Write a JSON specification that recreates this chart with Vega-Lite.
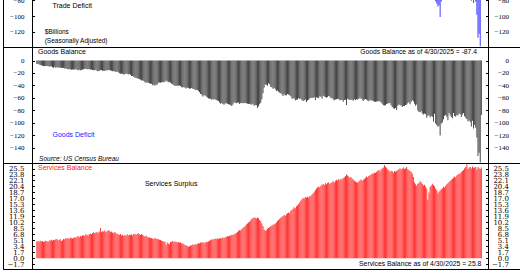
{
"$schema":"https://vega.github.io/schema/vega-lite/v6.json",
"padding":{"left":2,"top":-5,"right":-4,"bottom":0},
"background":"white",
"spacing":0,
"bounds":"flush",
"resolve":{"scale":{"x":"shared","y":"independent"}},
"config":{"view":{"stroke":"#000","strokeWidth":1},"axis":{"domainColor":"#000","tickColor":"#000","labelColor":"#000","grid":false,"labelOverlap":false,"labelBound":false,"zindex":1}},
"data":{"values":[
{"date":"1992-01","goods":-5.5,"services":4.8,"total":-0.7},
{"date":"1992-02","goods":-5.2,"services":4.9,"total":-0.3},
{"date":"1992-03","goods":-6.3,"services":4.7,"total":-1.6},
{"date":"1992-04","goods":-7.0,"services":5.0,"total":-2.0},
{"date":"1992-05","goods":-7.4,"services":4.8,"total":-2.6},
{"date":"1992-06","goods":-8.2,"services":4.9,"total":-3.3},
{"date":"1992-07","goods":-8.8,"services":4.6,"total":-4.2},
{"date":"1992-08","goods":-9.1,"services":4.8,"total":-4.3},
{"date":"1992-09","goods":-8.6,"services":5.0,"total":-3.6},
{"date":"1992-10","goods":-8.9,"services":4.9,"total":-4.0},
{"date":"1992-11","goods":-9.3,"services":4.7,"total":-4.6},
{"date":"1992-12","goods":-9.6,"services":5.0,"total":-4.6},
{"date":"1993-01","goods":-9.4,"services":5.1,"total":-4.3},
{"date":"1993-02","goods":-9.8,"services":5.3,"total":-4.5},
{"date":"1993-03","goods":-10.7,"services":5.0,"total":-5.7},
{"date":"1993-04","goods":-11.5,"services":5.3,"total":-6.2},
{"date":"1993-05","goods":-10.2,"services":5.2,"total":-5.0},
{"date":"1993-06","goods":-11.8,"services":5.4,"total":-6.4},
{"date":"1993-07","goods":-11.0,"services":5.5,"total":-5.5},
{"date":"1993-08","goods":-11.3,"services":5.1,"total":-6.2},
{"date":"1993-09","goods":-11.6,"services":5.3,"total":-6.3},
{"date":"1993-10","goods":-11.1,"services":5.4,"total":-5.7},
{"date":"1993-11","goods":-12.0,"services":4.9,"total":-7.1},
{"date":"1993-12","goods":-11.8,"services":5.1,"total":-6.7},
{"date":"1994-01","goods":-12.2,"services":5.5,"total":-6.7},
{"date":"1994-02","goods":-12.8,"services":5.4,"total":-7.4},
{"date":"1994-03","goods":-12.5,"services":5.7,"total":-6.8},
{"date":"1994-04","goods":-13.5,"services":5.6,"total":-7.9},
{"date":"1994-05","goods":-14.0,"services":5.8,"total":-8.2},
{"date":"1994-06","goods":-14.2,"services":5.5,"total":-8.7},
{"date":"1994-07","goods":-13.9,"services":5.9,"total":-8.0},
{"date":"1994-08","goods":-14.8,"services":5.7,"total":-9.1},
{"date":"1994-09","goods":-14.6,"services":5.6,"total":-9.0},
{"date":"1994-10","goods":-14.4,"services":5.8,"total":-8.6},
{"date":"1994-11","goods":-14.9,"services":6.0,"total":-8.9},
{"date":"1994-12","goods":-13.2,"services":5.9,"total":-7.3},
{"date":"1995-01","goods":-15.1,"services":6.1,"total":-9.0},
{"date":"1995-02","goods":-15.6,"services":6.3,"total":-9.3},
{"date":"1995-03","goods":-14.8,"services":6.0,"total":-8.8},
{"date":"1995-04","goods":-15.9,"services":6.4,"total":-9.5},
{"date":"1995-05","goods":-15.2,"services":6.2,"total":-9.0},
{"date":"1995-06","goods":-14.6,"services":6.5,"total":-8.1},
{"date":"1995-07","goods":-14.1,"services":6.6,"total":-7.5},
{"date":"1995-08","goods":-13.5,"services":6.3,"total":-7.2},
{"date":"1995-09","goods":-13.2,"services":6.8,"total":-6.4},
{"date":"1995-10","goods":-13.9,"services":6.7,"total":-7.2},
{"date":"1995-11","goods":-14.1,"services":6.5,"total":-7.6},
{"date":"1995-12","goods":-13.8,"services":6.9,"total":-6.9},
{"date":"1996-01","goods":-14.7,"services":7.0,"total":-7.7},
{"date":"1996-02","goods":-14.4,"services":6.8,"total":-7.6},
{"date":"1996-03","goods":-15.1,"services":7.2,"total":-7.9},
{"date":"1996-04","goods":-15.8,"services":7.4,"total":-8.4},
{"date":"1996-05","goods":-15.6,"services":7.1,"total":-8.5},
{"date":"1996-06","goods":-15.0,"services":7.3,"total":-7.7},
{"date":"1996-07","goods":-16.8,"services":7.5,"total":-9.3},
{"date":"1996-08","goods":-17.3,"services":7.2,"total":-10.1},
{"date":"1996-09","goods":-16.4,"services":7.6,"total":-8.8},
{"date":"1996-10","goods":-15.7,"services":8.6,"total":-7.1},
{"date":"1996-11","goods":-15.2,"services":7.4,"total":-7.8},
{"date":"1996-12","goods":-16.9,"services":7.7,"total":-9.2},
{"date":"1997-01","goods":-16.2,"services":7.6,"total":-8.6},
{"date":"1997-02","goods":-16.8,"services":7.9,"total":-8.9},
{"date":"1997-03","goods":-15.7,"services":7.5,"total":-8.2},
{"date":"1997-04","goods":-16.1,"services":7.7,"total":-8.4},
{"date":"1997-05","goods":-15.4,"services":8.0,"total":-7.4},
{"date":"1997-06","goods":-15.2,"services":7.8,"total":-7.4},
{"date":"1997-07","goods":-15.9,"services":7.4,"total":-8.5},
{"date":"1997-08","goods":-16.4,"services":7.6,"total":-8.8},
{"date":"1997-09","goods":-17.2,"services":7.3,"total":-9.9},
{"date":"1997-10","goods":-17.0,"services":7.2,"total":-9.8},
{"date":"1997-11","goods":-17.6,"services":7.5,"total":-10.1},
{"date":"1997-12","goods":-18.3,"services":7.1,"total":-11.2},
{"date":"1998-01","goods":-17.8,"services":7.0,"total":-10.8},
{"date":"1998-02","goods":-18.9,"services":6.8,"total":-12.1},
{"date":"1998-03","goods":-20.4,"services":6.6,"total":-13.8},
{"date":"1998-04","goods":-21.2,"services":6.9,"total":-14.3},
{"date":"1998-05","goods":-21.0,"services":6.5,"total":-14.5},
{"date":"1998-06","goods":-21.8,"services":6.7,"total":-15.1},
{"date":"1998-07","goods":-22.4,"services":6.3,"total":-16.1},
{"date":"1998-08","goods":-21.9,"services":6.6,"total":-15.3},
{"date":"1998-09","goods":-21.1,"services":6.4,"total":-14.7},
{"date":"1998-10","goods":-21.3,"services":6.8,"total":-14.5},
{"date":"1998-11","goods":-22.6,"services":6.5,"total":-16.1},
{"date":"1998-12","goods":-21.8,"services":6.7,"total":-15.1},
{"date":"1999-01","goods":-22.9,"services":6.6,"total":-16.3},
{"date":"1999-02","goods":-24.8,"services":6.8,"total":-18.0},
{"date":"1999-03","goods":-25.0,"services":6.5,"total":-18.5},
{"date":"1999-04","goods":-26.1,"services":6.9,"total":-19.2},
{"date":"1999-05","goods":-27.3,"services":7.0,"total":-20.3},
{"date":"1999-06","goods":-28.0,"services":6.7,"total":-21.3},
{"date":"1999-07","goods":-28.6,"services":6.9,"total":-21.7},
{"date":"1999-08","goods":-29.1,"services":7.1,"total":-22.0},
{"date":"1999-09","goods":-30.2,"services":6.8,"total":-23.4},
{"date":"1999-10","goods":-30.6,"services":6.6,"total":-24.0},
{"date":"1999-11","goods":-32.1,"services":6.9,"total":-25.2},
{"date":"1999-12","goods":-31.5,"services":6.7,"total":-24.8},
{"date":"2000-01","goods":-33.0,"services":6.4,"total":-26.6},
{"date":"2000-02","goods":-34.8,"services":6.2,"total":-28.6},
{"date":"2000-03","goods":-35.6,"services":6.5,"total":-29.1},
{"date":"2000-04","goods":-35.0,"services":6.1,"total":-28.9},
{"date":"2000-05","goods":-35.9,"services":5.9,"total":-30.0},
{"date":"2000-06","goods":-36.4,"services":6.0,"total":-30.4},
{"date":"2000-07","goods":-37.1,"services":5.7,"total":-31.4},
{"date":"2000-08","goods":-37.3,"services":5.8,"total":-31.5},
{"date":"2000-09","goods":-39.6,"services":5.6,"total":-34.0},
{"date":"2000-10","goods":-38.8,"services":5.5,"total":-33.3},
{"date":"2000-11","goods":-40.4,"services":5.8,"total":-34.6},
{"date":"2000-12","goods":-38.7,"services":5.6,"total":-33.1},
{"date":"2001-01","goods":-38.4,"services":5.5,"total":-32.9},
{"date":"2001-02","goods":-35.8,"services":5.4,"total":-30.4},
{"date":"2001-03","goods":-35.2,"services":5.3,"total":-29.9},
{"date":"2001-04","goods":-35.6,"services":5.2,"total":-30.4},
{"date":"2001-05","goods":-35.0,"services":5.0,"total":-30.0},
{"date":"2001-06","goods":-34.4,"services":4.9,"total":-29.5},
{"date":"2001-07","goods":-34.7,"services":4.8,"total":-29.9},
{"date":"2001-08","goods":-34.2,"services":4.7,"total":-29.5},
{"date":"2001-09","goods":-32.1,"services":3.8,"total":-28.3},
{"date":"2001-10","goods":-33.6,"services":4.5,"total":-29.1},
{"date":"2001-11","goods":-34.7,"services":4.2,"total":-30.5},
{"date":"2001-12","goods":-34.0,"services":4.0,"total":-30.0},
{"date":"2002-01","goods":-35.8,"services":4.6,"total":-31.2},
{"date":"2002-02","goods":-37.2,"services":4.7,"total":-32.5},
{"date":"2002-03","goods":-38.1,"services":4.9,"total":-33.2},
{"date":"2002-04","goods":-39.5,"services":4.6,"total":-34.9},
{"date":"2002-05","goods":-40.3,"services":4.8,"total":-35.5},
{"date":"2002-06","goods":-40.9,"services":4.7,"total":-36.2},
{"date":"2002-07","goods":-40.0,"services":4.5,"total":-35.5},
{"date":"2002-08","goods":-40.6,"services":4.6,"total":-36.0},
{"date":"2002-09","goods":-40.2,"services":4.4,"total":-35.8},
{"date":"2002-10","goods":-41.0,"services":4.5,"total":-36.5},
{"date":"2002-11","goods":-42.8,"services":4.3,"total":-38.5},
{"date":"2002-12","goods":-43.5,"services":4.2,"total":-39.3},
{"date":"2003-01","goods":-42.5,"services":4.0,"total":-38.5},
{"date":"2003-02","goods":-43.6,"services":3.8,"total":-39.8},
{"date":"2003-03","goods":-44.8,"services":3.6,"total":-41.2},
{"date":"2003-04","goods":-43.5,"services":3.5,"total":-40.0},
{"date":"2003-05","goods":-44.1,"services":3.3,"total":-40.8},
{"date":"2003-06","goods":-45.2,"services":3.4,"total":-41.8},
{"date":"2003-07","goods":-45.0,"services":3.6,"total":-41.4},
{"date":"2003-08","goods":-44.3,"services":3.7,"total":-40.6},
{"date":"2003-09","goods":-45.5,"services":3.9,"total":-41.6},
{"date":"2003-10","goods":-45.9,"services":3.8,"total":-42.1},
{"date":"2003-11","goods":-46.8,"services":4.0,"total":-42.8},
{"date":"2003-12","goods":-47.4,"services":3.9,"total":-43.5},
{"date":"2004-01","goods":-47.5,"services":4.1,"total":-43.4},
{"date":"2004-02","goods":-48.9,"services":4.3,"total":-44.6},
{"date":"2004-03","goods":-50.8,"services":4.2,"total":-46.6},
{"date":"2004-04","goods":-53.6,"services":4.5,"total":-49.1},
{"date":"2004-05","goods":-54.4,"services":4.4,"total":-50.0},
{"date":"2004-06","goods":-57.6,"services":4.6,"total":-53.0},
{"date":"2004-07","goods":-55.7,"services":4.3,"total":-51.4},
{"date":"2004-08","goods":-56.0,"services":4.5,"total":-51.5},
{"date":"2004-09","goods":-57.8,"services":4.7,"total":-53.1},
{"date":"2004-10","goods":-59.5,"services":4.6,"total":-54.9},
{"date":"2004-11","goods":-60.6,"services":4.8,"total":-55.8},
{"date":"2004-12","goods":-61.3,"services":4.9,"total":-56.4},
{"date":"2005-01","goods":-61.2,"services":5.2,"total":-56.0},
{"date":"2005-02","goods":-62.9,"services":5.4,"total":-57.5},
{"date":"2005-03","goods":-61.8,"services":5.3,"total":-56.5},
{"date":"2005-04","goods":-62.5,"services":5.5,"total":-57.0},
{"date":"2005-05","goods":-62.0,"services":5.6,"total":-56.4},
{"date":"2005-06","goods":-63.4,"services":5.4,"total":-58.0},
{"date":"2005-07","goods":-64.1,"services":5.7,"total":-58.4},
{"date":"2005-08","goods":-65.0,"services":5.5,"total":-59.5},
{"date":"2005-09","goods":-67.5,"services":5.6,"total":-61.9},
{"date":"2005-10","goods":-69.3,"services":5.8,"total":-63.5},
{"date":"2005-11","goods":-68.1,"services":5.7,"total":-62.4},
{"date":"2005-12","goods":-69.8,"services":5.9,"total":-63.9},
{"date":"2006-01","goods":-71.0,"services":5.8,"total":-65.2},
{"date":"2006-02","goods":-68.8,"services":6.0,"total":-62.8},
{"date":"2006-03","goods":-68.5,"services":6.1,"total":-62.4},
{"date":"2006-04","goods":-69.2,"services":6.3,"total":-62.9},
{"date":"2006-05","goods":-70.1,"services":6.2,"total":-63.9},
{"date":"2006-06","goods":-70.4,"services":6.4,"total":-64.0},
{"date":"2006-07","goods":-72.0,"services":6.5,"total":-65.5},
{"date":"2006-08","goods":-73.1,"services":6.7,"total":-66.4},
{"date":"2006-09","goods":-70.6,"services":6.6,"total":-64.0},
{"date":"2006-10","goods":-67.4,"services":6.8,"total":-60.6},
{"date":"2006-11","goods":-67.9,"services":7.0,"total":-60.9},
{"date":"2006-12","goods":-68.6,"services":7.2,"total":-61.4},
{"date":"2007-01","goods":-67.6,"services":7.5,"total":-60.1},
{"date":"2007-02","goods":-67.2,"services":7.8,"total":-59.4},
{"date":"2007-03","goods":-69.9,"services":8.0,"total":-61.9},
{"date":"2007-04","goods":-68.3,"services":7.9,"total":-60.4},
{"date":"2007-05","goods":-68.7,"services":8.3,"total":-60.4},
{"date":"2007-06","goods":-68.1,"services":8.6,"total":-59.5},
{"date":"2007-07","goods":-68.5,"services":8.9,"total":-59.6},
{"date":"2007-08","goods":-68.0,"services":9.2,"total":-58.8},
{"date":"2007-09","goods":-68.4,"services":9.6,"total":-58.8},
{"date":"2007-10","goods":-69.2,"services":9.9,"total":-59.3},
{"date":"2007-11","goods":-69.7,"services":10.2,"total":-59.5},
{"date":"2007-12","goods":-69.4,"services":10.4,"total":-59.0},
{"date":"2008-01","goods":-70.3,"services":10.8,"total":-59.5},
{"date":"2008-02","goods":-71.0,"services":11.2,"total":-59.8},
{"date":"2008-03","goods":-69.2,"services":11.4,"total":-57.8},
{"date":"2008-04","goods":-72.8,"services":11.6,"total":-61.2},
{"date":"2008-05","goods":-71.4,"services":11.5,"total":-59.9},
{"date":"2008-06","goods":-71.9,"services":11.3,"total":-60.6},
{"date":"2008-07","goods":-76.2,"services":11.6,"total":-64.6},
{"date":"2008-08","goods":-73.5,"services":11.4,"total":-62.1},
{"date":"2008-09","goods":-70.3,"services":10.9,"total":-59.4},
{"date":"2008-10","goods":-67.9,"services":10.5,"total":-57.4},
{"date":"2008-11","goods":-62.0,"services":9.9,"total":-52.1},
{"date":"2008-12","goods":-52.6,"services":9.2,"total":-43.4},
{"date":"2009-01","goods":-43.5,"services":8.2,"total":-35.3},
{"date":"2009-02","goods":-38.4,"services":7.8,"total":-30.6},
{"date":"2009-03","goods":-38.7,"services":8.0,"total":-30.7},
{"date":"2009-04","goods":-40.3,"services":8.4,"total":-31.9},
{"date":"2009-05","goods":-36.5,"services":8.6,"total":-27.9},
{"date":"2009-06","goods":-38.1,"services":8.9,"total":-29.2},
{"date":"2009-07","goods":-42.6,"services":9.1,"total":-33.5},
{"date":"2009-08","goods":-43.0,"services":9.3,"total":-33.7},
{"date":"2009-09","goods":-45.5,"services":9.5,"total":-36.0},
{"date":"2009-10","goods":-44.1,"services":9.7,"total":-34.4},
{"date":"2009-11","goods":-46.3,"services":9.9,"total":-36.4},
{"date":"2009-12","goods":-48.8,"services":10.2,"total":-38.6},
{"date":"2010-01","goods":-48.3,"services":10.6,"total":-37.7},
{"date":"2010-02","goods":-50.1,"services":10.9,"total":-39.2},
{"date":"2010-03","goods":-51.9,"services":11.2,"total":-40.7},
{"date":"2010-04","goods":-52.7,"services":11.5,"total":-41.2},
{"date":"2010-05","goods":-54.2,"services":11.8,"total":-42.4},
{"date":"2010-06","goods":-56.9,"services":12.0,"total":-44.9},
{"date":"2010-07","goods":-54.0,"services":12.3,"total":-41.7},
{"date":"2010-08","goods":-56.3,"services":12.1,"total":-44.2},
{"date":"2010-09","goods":-55.7,"services":12.5,"total":-43.2},
{"date":"2010-10","goods":-53.8,"services":12.8,"total":-41.0},
{"date":"2010-11","goods":-54.6,"services":13.0,"total":-41.6},
{"date":"2010-12","goods":-55.9,"services":12.9,"total":-43.0},
{"date":"2011-01","goods":-57.5,"services":13.5,"total":-44.0},
{"date":"2011-02","goods":-61.2,"services":13.8,"total":-47.4},
{"date":"2011-03","goods":-60.5,"services":14.1,"total":-46.4},
{"date":"2011-04","goods":-61.1,"services":14.5,"total":-46.6},
{"date":"2011-05","goods":-64.2,"services":14.2,"total":-50.0},
{"date":"2011-06","goods":-63.0,"services":14.8,"total":-48.2},
{"date":"2011-07","goods":-62.4,"services":15.1,"total":-47.3},
{"date":"2011-08","goods":-60.3,"services":15.4,"total":-44.9},
{"date":"2011-09","goods":-61.7,"services":15.9,"total":-45.8},
{"date":"2011-10","goods":-61.5,"services":16.4,"total":-45.1},
{"date":"2011-11","goods":-63.8,"services":16.8,"total":-47.0},
{"date":"2011-12","goods":-64.9,"services":17.1,"total":-47.8},
{"date":"2012-01","goods":-64.0,"services":17.0,"total":-47.0},
{"date":"2012-02","goods":-62.7,"services":17.4,"total":-45.3},
{"date":"2012-03","goods":-66.4,"services":17.2,"total":-49.2},
{"date":"2012-04","goods":-64.3,"services":17.5,"total":-46.8},
{"date":"2012-05","goods":-63.0,"services":17.3,"total":-45.7},
{"date":"2012-06","goods":-60.9,"services":17.6,"total":-43.3},
{"date":"2012-07","goods":-59.8,"services":17.8,"total":-42.0},
{"date":"2012-08","goods":-60.2,"services":18.1,"total":-42.1},
{"date":"2012-09","goods":-59.6,"services":18.5,"total":-41.1},
{"date":"2012-10","goods":-59.1,"services":18.9,"total":-40.2},
{"date":"2012-11","goods":-63.5,"services":19.4,"total":-44.1},
{"date":"2012-12","goods":-58.9,"services":19.8,"total":-39.1},
{"date":"2013-01","goods":-59.8,"services":20.1,"total":-39.7},
{"date":"2013-02","goods":-60.5,"services":20.4,"total":-40.1},
{"date":"2013-03","goods":-57.3,"services":20.2,"total":-37.1},
{"date":"2013-04","goods":-58.1,"services":20.6,"total":-37.5},
{"date":"2013-05","goods":-61.2,"services":20.9,"total":-40.3},
{"date":"2013-06","goods":-56.4,"services":21.1,"total":-35.3},
{"date":"2013-07","goods":-57.7,"services":20.8,"total":-36.9},
{"date":"2013-08","goods":-58.4,"services":21.3,"total":-37.1},
{"date":"2013-09","goods":-59.6,"services":21.0,"total":-38.6},
{"date":"2013-10","goods":-58.5,"services":21.4,"total":-37.1},
{"date":"2013-11","goods":-56.8,"services":21.6,"total":-35.2},
{"date":"2013-12","goods":-57.9,"services":21.2,"total":-36.7},
{"date":"2014-01","goods":-60.5,"services":21.4,"total":-39.1},
{"date":"2014-02","goods":-60.1,"services":21.6,"total":-38.5},
{"date":"2014-03","goods":-62.4,"services":21.9,"total":-40.5},
{"date":"2014-04","goods":-63.7,"services":21.5,"total":-42.2},
{"date":"2014-05","goods":-62.4,"services":22.0,"total":-40.4},
{"date":"2014-06","goods":-62.0,"services":22.3,"total":-39.7},
{"date":"2014-07","goods":-61.5,"services":22.1,"total":-39.4},
{"date":"2014-08","goods":-62.1,"services":22.5,"total":-39.6},
{"date":"2014-09","goods":-63.5,"services":22.2,"total":-41.3},
{"date":"2014-10","goods":-63.7,"services":22.6,"total":-41.1},
{"date":"2014-11","goods":-63.2,"services":22.4,"total":-40.8},
{"date":"2014-12","goods":-66.0,"services":22.8,"total":-43.2},
{"date":"2015-01","goods":-63.4,"services":23.0,"total":-40.4},
{"date":"2015-02","goods":-62.8,"services":23.4,"total":-39.4},
{"date":"2015-03","goods":-71.5,"services":23.8,"total":-47.7},
{"date":"2015-04","goods":-61.2,"services":23.5,"total":-37.7},
{"date":"2015-05","goods":-62.5,"services":23.2,"total":-39.3},
{"date":"2015-06","goods":-63.4,"services":22.9,"total":-40.5},
{"date":"2015-07","goods":-62.8,"services":23.1,"total":-39.7},
{"date":"2015-08","goods":-63.0,"services":22.6,"total":-40.4},
{"date":"2015-09","goods":-64.4,"services":22.4,"total":-42.0},
{"date":"2015-10","goods":-62.1,"services":22.0,"total":-40.1},
{"date":"2015-11","goods":-63.2,"services":21.8,"total":-41.4},
{"date":"2015-12","goods":-62.0,"services":21.6,"total":-40.4},
{"date":"2016-01","goods":-62.4,"services":21.5,"total":-40.9},
{"date":"2016-02","goods":-61.8,"services":21.8,"total":-40.0},
{"date":"2016-03","goods":-59.3,"services":22.1,"total":-37.2},
{"date":"2016-04","goods":-61.2,"services":22.4,"total":-38.8},
{"date":"2016-05","goods":-62.6,"services":22.0,"total":-40.6},
{"date":"2016-06","goods":-64.8,"services":22.3,"total":-42.5},
{"date":"2016-07","goods":-62.6,"services":22.6,"total":-40.0},
{"date":"2016-08","goods":-61.9,"services":22.9,"total":-39.0},
{"date":"2016-09","goods":-63.0,"services":23.2,"total":-39.8},
{"date":"2016-10","goods":-64.2,"services":23.0,"total":-41.2},
{"date":"2016-11","goods":-65.5,"services":23.4,"total":-42.1},
{"date":"2016-12","goods":-63.1,"services":23.6,"total":-39.5},
{"date":"2017-01","goods":-64.3,"services":23.8,"total":-40.5},
{"date":"2017-02","goods":-64.1,"services":24.1,"total":-40.0},
{"date":"2017-03","goods":-65.2,"services":24.0,"total":-41.2},
{"date":"2017-04","goods":-66.0,"services":24.4,"total":-41.6},
{"date":"2017-05","goods":-66.2,"services":24.2,"total":-42.0},
{"date":"2017-06","goods":-65.8,"services":24.6,"total":-41.2},
{"date":"2017-07","goods":-65.9,"services":24.9,"total":-41.0},
{"date":"2017-08","goods":-64.8,"services":25.1,"total":-39.7},
{"date":"2017-09","goods":-65.6,"services":24.7,"total":-40.9},
{"date":"2017-10","goods":-67.3,"services":25.3,"total":-42.0},
{"date":"2017-11","goods":-69.5,"services":25.5,"total":-44.0},
{"date":"2017-12","goods":-71.9,"services":25.8,"total":-46.1},
{"date":"2018-01","goods":-72.4,"services":26.5,"total":-45.9},
{"date":"2018-02","goods":-71.8,"services":26.0,"total":-45.8},
{"date":"2018-03","goods":-69.9,"services":25.7,"total":-44.2},
{"date":"2018-04","goods":-68.9,"services":25.2,"total":-43.7},
{"date":"2018-05","goods":-68.5,"services":25.0,"total":-43.5},
{"date":"2018-06","goods":-68.0,"services":24.6,"total":-43.4},
{"date":"2018-07","goods":-71.9,"services":24.9,"total":-47.0},
{"date":"2018-08","goods":-74.5,"services":24.7,"total":-49.8},
{"date":"2018-09","goods":-76.8,"services":24.3,"total":-52.5},
{"date":"2018-10","goods":-77.5,"services":24.8,"total":-52.7},
{"date":"2018-11","goods":-76.4,"services":24.6,"total":-51.8},
{"date":"2018-12","goods":-79.6,"services":24.9,"total":-54.7},
{"date":"2019-01","goods":-72.8,"services":25.0,"total":-47.8},
{"date":"2019-02","goods":-70.5,"services":25.3,"total":-45.2},
{"date":"2019-03","goods":-71.9,"services":25.6,"total":-46.3},
{"date":"2019-04","goods":-72.3,"services":25.2,"total":-47.1},
{"date":"2019-05","goods":-74.5,"services":25.5,"total":-49.0},
{"date":"2019-06","goods":-73.2,"services":25.8,"total":-47.4},
{"date":"2019-07","goods":-72.9,"services":25.4,"total":-47.5},
{"date":"2019-08","goods":-71.5,"services":25.6,"total":-45.9},
{"date":"2019-09","goods":-70.9,"services":25.9,"total":-45.0},
{"date":"2019-10","goods":-68.5,"services":25.3,"total":-43.2},
{"date":"2019-11","goods":-66.8,"services":25.1,"total":-41.7},
{"date":"2019-12","goods":-70.2,"services":24.8,"total":-45.4},
{"date":"2020-01","goods":-66.0,"services":24.5,"total":-41.5},
{"date":"2020-02","goods":-63.8,"services":24.0,"total":-39.8},
{"date":"2020-03","goods":-65.4,"services":23.1,"total":-42.3},
{"date":"2020-04","goods":-69.2,"services":21.5,"total":-47.7},
{"date":"2020-05","goods":-72.8,"services":21.0,"total":-51.8},
{"date":"2020-06","goods":-70.5,"services":20.6,"total":-49.9},
{"date":"2020-07","goods":-80.4,"services":21.2,"total":-59.2},
{"date":"2020-08","goods":-82.5,"services":21.4,"total":-61.1},
{"date":"2020-09","goods":-83.1,"services":21.9,"total":-61.2},
{"date":"2020-10","goods":-81.6,"services":21.6,"total":-60.0},
{"date":"2020-11","goods":-85.0,"services":21.1,"total":-63.9},
{"date":"2020-12","goods":-86.5,"services":20.7,"total":-65.8},
{"date":"2021-01","goods":-85.2,"services":20.9,"total":-64.3},
{"date":"2021-02","goods":-86.4,"services":20.4,"total":-66.0},
{"date":"2021-03","goods":-91.8,"services":19.8,"total":-72.0},
{"date":"2021-04","goods":-88.1,"services":16.6,"total":-71.5},
{"date":"2021-05","goods":-88.3,"services":18.7,"total":-69.6},
{"date":"2021-06","goods":-91.0,"services":20.3,"total":-70.7},
{"date":"2021-07","goods":-89.0,"services":20.7,"total":-68.3},
{"date":"2021-08","goods":-90.4,"services":21.2,"total":-69.2},
{"date":"2021-09","goods":-97.8,"services":20.8,"total":-77.0},
{"date":"2021-10","goods":-85.6,"services":20.5,"total":-65.1},
{"date":"2021-11","goods":-101.0,"services":19.8,"total":-81.2},
{"date":"2021-12","goods":-103.5,"services":19.4,"total":-84.1},
{"date":"2022-01","goods":-106.2,"services":18.4,"total":-87.8},
{"date":"2022-02","goods":-105.1,"services":18.9,"total":-86.2},
{"date":"2022-03","goods":-120.5,"services":19.3,"total":-101.2},
{"date":"2022-04","goods":-101.0,"services":19.6,"total":-81.4},
{"date":"2022-05","goods":-99.5,"services":19.9,"total":-79.6},
{"date":"2022-06","goods":-94.1,"services":20.3,"total":-73.8},
{"date":"2022-07","goods":-88.5,"services":20.1,"total":-68.4},
{"date":"2022-08","goods":-87.6,"services":20.6,"total":-67.0},
{"date":"2022-09","goods":-90.2,"services":21.0,"total":-69.2},
{"date":"2022-10","goods":-95.8,"services":21.3,"total":-74.5},
{"date":"2022-11","goods":-84.2,"services":21.7,"total":-62.5},
{"date":"2022-12","goods":-88.0,"services":22.0,"total":-66.0},
{"date":"2023-01","goods":-90.5,"services":22.3,"total":-68.2},
{"date":"2023-02","goods":-92.8,"services":22.6,"total":-70.2},
{"date":"2023-03","goods":-84.3,"services":22.9,"total":-61.4},
{"date":"2023-04","goods":-88.9,"services":23.2,"total":-65.7},
{"date":"2023-05","goods":-90.1,"services":23.0,"total":-67.1},
{"date":"2023-06","goods":-87.6,"services":23.5,"total":-64.1},
{"date":"2023-07","goods":-88.3,"services":23.8,"total":-64.5},
{"date":"2023-08","goods":-85.0,"services":24.1,"total":-60.9},
{"date":"2023-09","goods":-86.2,"services":24.0,"total":-62.2},
{"date":"2023-10","goods":-90.8,"services":24.5,"total":-66.3},
{"date":"2023-11","goods":-86.5,"services":24.8,"total":-61.7},
{"date":"2023-12","goods":-84.4,"services":25.1,"total":-59.3},
{"date":"2024-01","goods":-89.6,"services":25.6,"total":-64.0},
{"date":"2024-02","goods":-91.8,"services":25.9,"total":-65.9},
{"date":"2024-03","goods":-94.0,"services":26.7,"total":-67.3},
{"date":"2024-04","goods":-97.5,"services":25.4,"total":-72.1},
{"date":"2024-05","goods":-96.3,"services":25.8,"total":-70.5},
{"date":"2024-06","goods":-98.8,"services":25.9,"total":-72.9},
{"date":"2024-07","goods":-106.0,"services":25.5,"total":-80.5},
{"date":"2024-08","goods":-96.8,"services":26.1,"total":-70.7},
{"date":"2024-09","goods":-109.2,"services":25.7,"total":-83.5},
{"date":"2024-10","goods":-103.6,"services":25.8,"total":-77.8},
{"date":"2024-11","goods":-107.8,"services":25.9,"total":-81.9},
{"date":"2024-12","goods":-123.4,"services":25.2,"total":-98.2},
{"date":"2025-01","goods":-153.3,"services":25.9,"total":-127.4},
{"date":"2025-02","goods":-147.9,"services":25.6,"total":-122.3},
{"date":"2025-03","goods":-163.5,"services":25.4,"total":-138.1},
{"date":"2025-04","goods":-87.4,"services":25.8,"total":-61.6}
]},
"vconcat":[
{
"width":520,"height":51,
"resolve":{"axis":{"y":"independent"}},
"encoding":{"x":{"field":"date","type":"ordinal","scale":{"paddingInner":0.2,"paddingOuter":0,"align":0.5,"round":false,"domain":[
"1989-07","1989-08","1989-09","1989-10","1989-11","1989-12",
"1990-01","1990-02","1990-03","1990-04","1990-05","1990-06","1990-07","1990-08","1990-09","1990-10","1990-11","1990-12",
"1991-01","1991-02","1991-03","1991-04","1991-05","1991-06","1991-07","1991-08","1991-09","1991-10","1991-11","1991-12",
"1992-01","1992-02","1992-03","1992-04","1992-05","1992-06","1992-07","1992-08","1992-09","1992-10","1992-11","1992-12",
"1993-01","1993-02","1993-03","1993-04","1993-05","1993-06","1993-07","1993-08","1993-09","1993-10","1993-11","1993-12",
"1994-01","1994-02","1994-03","1994-04","1994-05","1994-06","1994-07","1994-08","1994-09","1994-10","1994-11","1994-12",
"1995-01","1995-02","1995-03","1995-04","1995-05","1995-06","1995-07","1995-08","1995-09","1995-10","1995-11","1995-12",
"1996-01","1996-02","1996-03","1996-04","1996-05","1996-06","1996-07","1996-08","1996-09","1996-10","1996-11","1996-12",
"1997-01","1997-02","1997-03","1997-04","1997-05","1997-06","1997-07","1997-08","1997-09","1997-10","1997-11","1997-12",
"1998-01","1998-02","1998-03","1998-04","1998-05","1998-06","1998-07","1998-08","1998-09","1998-10","1998-11","1998-12",
"1999-01","1999-02","1999-03","1999-04","1999-05","1999-06","1999-07","1999-08","1999-09","1999-10","1999-11","1999-12",
"2000-01","2000-02","2000-03","2000-04","2000-05","2000-06","2000-07","2000-08","2000-09","2000-10","2000-11","2000-12",
"2001-01","2001-02","2001-03","2001-04","2001-05","2001-06","2001-07","2001-08","2001-09","2001-10","2001-11","2001-12",
"2002-01","2002-02","2002-03","2002-04","2002-05","2002-06","2002-07","2002-08","2002-09","2002-10","2002-11","2002-12",
"2003-01","2003-02","2003-03","2003-04","2003-05","2003-06","2003-07","2003-08","2003-09","2003-10","2003-11","2003-12",
"2004-01","2004-02","2004-03","2004-04","2004-05","2004-06","2004-07","2004-08","2004-09","2004-10","2004-11","2004-12",
"2005-01","2005-02","2005-03","2005-04","2005-05","2005-06","2005-07","2005-08","2005-09","2005-10","2005-11","2005-12",
"2006-01","2006-02","2006-03","2006-04","2006-05","2006-06","2006-07","2006-08","2006-09","2006-10","2006-11","2006-12",
"2007-01","2007-02","2007-03","2007-04","2007-05","2007-06","2007-07","2007-08","2007-09","2007-10","2007-11","2007-12",
"2008-01","2008-02","2008-03","2008-04","2008-05","2008-06","2008-07","2008-08","2008-09","2008-10","2008-11","2008-12",
"2009-01","2009-02","2009-03","2009-04","2009-05","2009-06","2009-07","2009-08","2009-09","2009-10","2009-11","2009-12",
"2010-01","2010-02","2010-03","2010-04","2010-05","2010-06","2010-07","2010-08","2010-09","2010-10","2010-11","2010-12",
"2011-01","2011-02","2011-03","2011-04","2011-05","2011-06","2011-07","2011-08","2011-09","2011-10","2011-11","2011-12",
"2012-01","2012-02","2012-03","2012-04","2012-05","2012-06","2012-07","2012-08","2012-09","2012-10","2012-11","2012-12",
"2013-01","2013-02","2013-03","2013-04","2013-05","2013-06","2013-07","2013-08","2013-09","2013-10","2013-11","2013-12",
"2014-01","2014-02","2014-03","2014-04","2014-05","2014-06","2014-07","2014-08","2014-09","2014-10","2014-11","2014-12",
"2015-01","2015-02","2015-03","2015-04","2015-05","2015-06","2015-07","2015-08","2015-09","2015-10","2015-11","2015-12",
"2016-01","2016-02","2016-03","2016-04","2016-05","2016-06","2016-07","2016-08","2016-09","2016-10","2016-11","2016-12",
"2017-01","2017-02","2017-03","2017-04","2017-05","2017-06","2017-07","2017-08","2017-09","2017-10","2017-11","2017-12",
"2018-01","2018-02","2018-03","2018-04","2018-05","2018-06","2018-07","2018-08","2018-09","2018-10","2018-11","2018-12",
"2019-01","2019-02","2019-03","2019-04","2019-05","2019-06","2019-07","2019-08","2019-09","2019-10","2019-11","2019-12",
"2020-01","2020-02","2020-03","2020-04","2020-05","2020-06","2020-07","2020-08","2020-09","2020-10","2020-11","2020-12",
"2021-01","2021-02","2021-03","2021-04","2021-05","2021-06","2021-07","2021-08","2021-09","2021-10","2021-11","2021-12",
"2022-01","2022-02","2022-03","2022-04","2022-05","2022-06","2022-07","2022-08","2022-09","2022-10","2022-11","2022-12",
"2023-01","2023-02","2023-03","2023-04","2023-05","2023-06","2023-07","2023-08","2023-09","2023-10","2023-11","2023-12",
"2024-01","2024-02","2024-03","2024-04","2024-05","2024-06","2024-07","2024-08","2024-09","2024-10","2024-11","2024-12",
"2025-01","2025-02","2025-03","2025-04","2025-05","2025-06","2025-07","2025-08","2025-09","2025-10","2025-11","2025-12",
"2026-01","2026-02","2026-03","2026-04","2026-05","2026-06","2026-07","2026-08","2026-09","2026-10","2026-11","2026-12",
"2027-01","2027-02","2027-03","2027-04","2027-05","2027-06","2027-07","2027-08","2027-09","2027-10","2027-11","2027-12",
"2028-01","2028-02","2028-03","2028-04","2028-05"]},"axis":{"orient":"bottom","domain":true,"ticks":false,"labels":false,"grid":false,"title":null}}},
"layer":[
{"mark":{"type":"bar","color":"#2f2fff","clip":true,"opacity":1},
 "encoding":{"y":{"field":"total","type":"quantitative","scale":{"domain":[-139.1,-74.5],"nice":false,"zero":false},"axis":{"orient":"left","offset":0,"values":[-80,-100,-120],"domain":true,"ticks":false,"labelPadding":-21,"labelFont":"Liberation Serif","labelFontSize":7,"title":null}},"y2":{"datum":0}}},
{"data":{"values":[{}]},"mark":{"type":"text","align":"left","baseline":"middle","font":"Liberation Sans","fontSize":7,"color":"#000"},
 "encoding":{"x":{"datum":"1993-03","type":"ordinal","axis":null},"y":{"datum":-86.6,"type":"quantitative","axis":{"orient":"left","offset":-29,"values":[-80,-100,-120],"domain":true,"ticks":true,"tickSize":-2.5,"labels":false,"title":null}},"text":{"value":"Trade Deficit"}}},
{"data":{"values":[{}]},"mark":{"type":"text","align":"left","baseline":"middle","font":"Liberation Sans","fontSize":6.5,"color":"#000"},
 "encoding":{"x":{"datum":"1992-08","type":"ordinal","axis":null},"y":{"datum":-120.1,"type":"quantitative","axis":{"orient":"right","offset":-35,"values":[-80,-100,-120],"domain":true,"ticks":true,"tickSize":-2.5,"labels":true,"labelAlign":"right","labelPadding":23,"labelFont":"Liberation Serif","labelFontSize":7,"title":null}},"text":{"value":"$Billions"}}},
{"data":{"values":[{}]},"mark":{"type":"text","align":"left","baseline":"middle","font":"Liberation Sans","fontSize":6.5,"color":"#000"},
 "encoding":{"x":{"datum":"1992-08","type":"ordinal","axis":null},"y":{"datum":-130.9,"type":"quantitative","axis":null},"text":{"value":"(Seasonally Adjusted)"}}}
]
},
{
"width":520,"height":116,
"resolve":{"axis":{"y":"independent"}},
"encoding":{"x":{"field":"date","type":"ordinal","scale":{"paddingInner":0.2,"paddingOuter":0,"align":0.5,"round":false},"axis":{"orient":"bottom","domain":true,"ticks":false,"labels":false,"grid":false,"title":null}}},
"layer":[
{"mark":{"type":"bar","color":"#333333","clip":true,"opacity":1},
 "encoding":{"y":{"field":"goods","type":"quantitative","scale":{"domain":[-164.5,21.7],"nice":false,"zero":false},"axis":{"orient":"left","offset":0,"values":[0,-20,-40,-60,-80,-100,-120,-140],"domain":true,"ticks":false,"labelPadding":-21,"labelFont":"Liberation Serif","labelFontSize":7,"title":null}},"y2":{"datum":0}}},
{"data":{"values":[{}]},"mark":{"type":"text","align":"left","baseline":"middle","font":"Liberation Sans","fontSize":7,"color":"#000"},
 "encoding":{"x":{"datum":"1992-02","type":"ordinal","axis":null},"y":{"datum":14.2,"type":"quantitative","axis":{"orient":"left","offset":-29,"values":[0,-20,-40,-60,-80,-100,-120,-140],"domain":true,"ticks":true,"tickSize":-2.5,"labels":false,"title":null}},"text":{"value":"Goods Balance"}}},
{"data":{"values":[{}]},"mark":{"type":"text","align":"right","baseline":"middle","font":"Liberation Sans","fontSize":6.7,"color":"#000"},
 "encoding":{"x":{"datum":"2024-12","type":"ordinal","axis":null},"y":{"datum":13.7,"type":"quantitative","axis":{"orient":"right","offset":-35,"values":[0,-20,-40,-60,-80,-100,-120,-140],"domain":true,"ticks":true,"tickSize":-2.5,"labels":true,"labelAlign":"right","labelPadding":23,"labelFont":"Liberation Serif","labelFontSize":7,"title":null}},"text":{"value":"Goods Balance as of 4/30/2025 = -87.4"}}},
{"data":{"values":[{}]},"mark":{"type":"text","align":"left","baseline":"middle","font":"Liberation Sans","fontSize":7,"color":"#2020ff"},
 "encoding":{"x":{"datum":"1993-03","type":"ordinal","axis":null},"y":{"datum":-119.1,"type":"quantitative","axis":null},"text":{"value":"Goods Deficit"}}},
{"data":{"values":[{}]},"mark":{"type":"text","align":"left","baseline":"middle","font":"Liberation Sans","fontSize":6.5,"fontStyle":"italic","color":"#000"},
 "encoding":{"x":{"datum":"1992-03","type":"ordinal","axis":null},"y":{"datum":-158.6,"type":"quantitative","axis":null},"text":{"value":"Source: US Census Bureau"}}}
]
},
{
"width":520,"height":106,
"resolve":{"axis":{"y":"independent"}},
"encoding":{"x":{"field":"date","type":"ordinal","scale":{"paddingInner":0.2,"paddingOuter":0,"align":0.5,"round":false},"axis":{"orient":"bottom","domain":true,"ticks":true,"tickSize":2,"tickColor":"#444","labels":false,"grid":false,"title":null,"values":["1992-01","1992-04","1992-07","1992-10","1993-01","1993-04","1993-07","1993-10","1994-01","1994-04","1994-07","1994-10","1995-01","1995-04","1995-07","1995-10","1996-01","1996-04","1996-07","1996-10","1997-01","1997-04","1997-07","1997-10","1998-01","1998-04","1998-07","1998-10","1999-01","1999-04","1999-07","1999-10","2000-01","2000-04","2000-07","2000-10","2001-01","2001-04","2001-07","2001-10","2002-01","2002-04","2002-07","2002-10","2003-01","2003-04","2003-07","2003-10","2004-01","2004-04","2004-07","2004-10","2005-01","2005-04","2005-07","2005-10","2006-01","2006-04","2006-07","2006-10","2007-01","2007-04","2007-07","2007-10","2008-01","2008-04","2008-07","2008-10","2009-01","2009-04","2009-07","2009-10","2010-01","2010-04","2010-07","2010-10","2011-01","2011-04","2011-07","2011-10","2012-01","2012-04","2012-07","2012-10","2013-01","2013-04","2013-07","2013-10","2014-01","2014-04","2014-07","2014-10","2015-01","2015-04","2015-07","2015-10","2016-01","2016-04","2016-07","2016-10","2017-01","2017-04","2017-07","2017-10","2018-01","2018-04","2018-07","2018-10","2019-01","2019-04","2019-07","2019-10","2020-01","2020-04","2020-07","2020-10","2021-01","2021-04","2021-07","2021-10","2022-01","2022-04","2022-07","2022-10","2023-01","2023-04","2023-07","2023-10","2024-01","2024-04","2024-07","2024-10","2025-01","2025-04"]}}},
"layer":[
{"mark":{"type":"bar","color":"#ff2020","clip":true,"opacity":1},
 "encoding":{"y":{"field":"services","type":"quantitative","scale":{"domain":[-3.04,27.07],"nice":false,"zero":false},"axis":{"orient":"left","offset":0,"values":[-1.7,0,1.7,3.4,5.1,6.8,8.5,10.2,11.9,13.6,15.3,17,18.7,20.4,22.1,23.8,25.5],"format":".1f","domain":true,"ticks":false,"labelPadding":-21,"labelFont":"DejaVu Serif","labelFontSize":7,"title":null}},"y2":{"datum":0}}},
{"data":{"values":[{}]},"mark":{"type":"text","align":"left","baseline":"middle","font":"Liberation Sans","fontSize":7,"color":"#ff2020"},
 "encoding":{"x":{"datum":"1992-02","type":"ordinal","axis":null},"y":{"datum":25.73,"type":"quantitative","axis":{"orient":"left","offset":-29,"values":[-1.7,0,1.7,3.4,5.1,6.8,8.5,10.2,11.9,13.6,15.3,17,18.7,20.4,22.1,23.8,25.5],"domain":true,"ticks":true,"tickSize":-2.5,"labels":false,"title":null}},"text":{"value":"Services Balance"}}},
{"data":{"values":[{}]},"mark":{"type":"text","align":"left","baseline":"middle","font":"Liberation Sans","fontSize":7,"color":"#000"},
 "encoding":{"x":{"datum":"2000-02","type":"ordinal","axis":null},"y":{"datum":21.19,"type":"quantitative","axis":{"orient":"right","offset":-35,"values":[-1.7,0,1.7,3.4,5.1,6.8,8.5,10.2,11.9,13.6,15.3,17,18.7,20.4,22.1,23.8,25.5],"format":".1f","domain":true,"ticks":true,"tickSize":-2.5,"labels":true,"labelAlign":"right","labelPadding":23,"labelFont":"DejaVu Serif","labelFontSize":7,"title":null}},"text":{"value":"Services Surplus"}}},
{"data":{"values":[{}]},"mark":{"type":"text","align":"right","baseline":"middle","font":"Liberation Sans","fontSize":6.8,"color":"#000"},
 "encoding":{"x":{"datum":"2025-04","type":"ordinal","axis":null},"y":{"datum":-1.62,"type":"quantitative","axis":null},"text":{"value":"Services Balance as of 4/30/2025 = 25.8"}}}
]
}
]
}
